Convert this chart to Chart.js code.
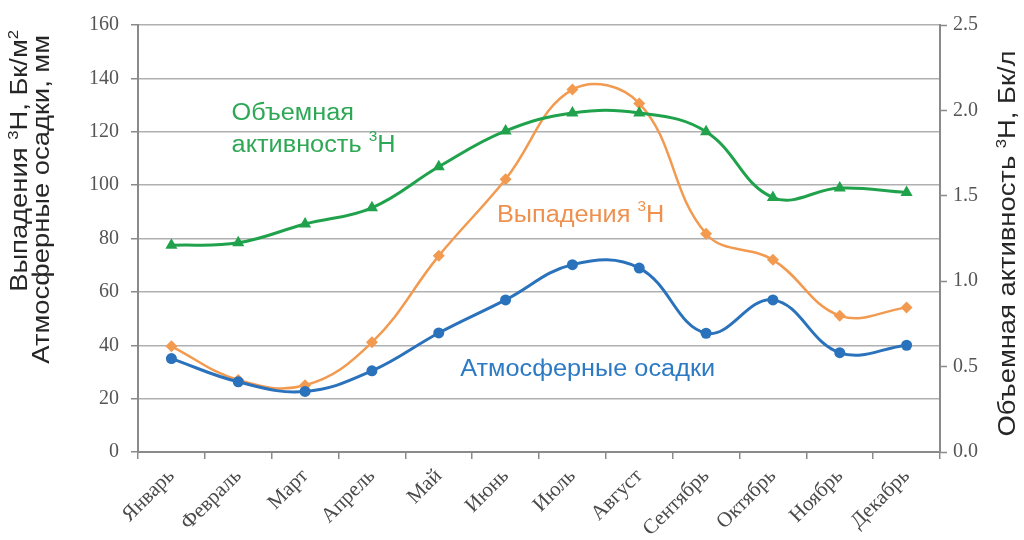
<!DOCTYPE html>
<html>
<head>
<meta charset="utf-8">
<script src="https://cdn.jsdelivr.net/npm/chart.js@4/dist/chart.umd.min.js"></script>
<style>
  html, body { margin: 0; padding: 0; background: #ffffff; }
  #wrap { width: 1024px; height: 540px; }
</style>
</head>
<body>
<div id="wrap"><canvas id="c" width="1024" height="540"></canvas></div>
<script>
// Месяцы
const months = ['Январь', 'Февраль', 'Март', 'Апрель', 'Май', 'Июнь',
                'Июль', 'Август', 'Сентябрь', 'Октябрь', 'Ноябрь', 'Декабрь'];

// Атмосферные осадки, мм (левая ось)
const precipitation = [35, 26.3, 22.7, 30.4, 44.6, 57, 70.2, 68.9, 44.5, 57, 37.2, 40];

// Выпадения 3H, Бк/м² (левая ось)
const tritiumFallout = [39.6, 27, 25, 41.1, 73.5, 102.2, 135.8, 130.6, 81.8, 72, 51.1, 54.1];

// Объемная активность 3H, Бк/л (правая ось)
const tritiumActivity = [1.21, 1.225, 1.335, 1.43, 1.67, 1.88, 1.985, 1.985, 1.875, 1.49, 1.545, 1.52];

// Шкалы
const leftTicks = [0, 20, 40, 60, 80, 100, 120, 140, 160];
const rightTicks = [0, 0.5, 1.0, 1.5, 2.0, 2.5];

const BLUE = '#2a72bb';
const ORANGE = '#f29a50';
const GREEN = '#20a24c';
const AXIS = '#8a8a8a';
const GRID = '#b0b0b0';
const TICK_TEXT = '#555555';
const SERIF = '"Liberation Serif", "Times New Roman", serif';
const SANS = '"Liberation Sans", Arial, sans-serif';

// Подписи серий прямо на поле графика (позиции в единицах осей)
const seriesLabels = [
  { parts: [['Объемная', false]], at: [0.9, 126.6], color: '#2fa856' },
  { parts: [['активность ', false], ['3', true], ['H', false]], at: [0.9, 114.8], color: '#2fa856' },
  { parts: [['Выпадения ', false], ['3', true], ['H', false]], at: [4.87, 88.6], color: '#ee914f' },
  { parts: [['Атмосферные осадки', false]], at: [4.32, 30.7], color: '#2d7ac4' }
];

// Текст с надстрочными индексами; stretch растягивает строку вдоль направления письма
function drawRich(ctx, parts, x, y, size, stretch) {
  ctx.save();
  ctx.translate(x, y);
  ctx.scale(stretch, 1);
  let cx = 0;
  for (const [text, sup] of parts) {
    if (sup) {
      ctx.font = Math.round(size * 0.62) + 'px ' + SANS;
      ctx.fillText(text, cx, -size * 0.38);
    } else {
      ctx.font = size + 'px ' + SANS;
      ctx.fillText(text, cx, 0);
    }
    cx += ctx.measureText(text).width;
  }
  ctx.restore();
}

function richWidth(ctx, parts, size, stretch) {
  let w = 0;
  ctx.save();
  for (const [text, sup] of parts) {
    ctx.font = (sup ? Math.round(size * 0.62) : size) + 'px ' + SANS;
    w += ctx.measureText(text).width;
  }
  ctx.restore();
  return w * stretch;
}

const labelPlugin = {
  id: 'seriesLabels',
  afterDatasetsDraw(chart) {
    const ctx = chart.ctx;
    const xs = chart.scales.x, ys = chart.scales.y;
    ctx.save();
    ctx.textBaseline = 'middle';
    ctx.textAlign = 'left';
    for (const l of seriesLabels) {
      ctx.fillStyle = l.color;
      drawRich(ctx, l.parts, xs.getPixelForValue(l.at[0]), ys.getPixelForValue(l.at[1]), 23, 1.1);
    }
    ctx.restore();
  }
};

// Подписи осей (повёрнутые)
const axisTitles = {
  id: 'axisTitles',
  afterDraw(chart) {
    const ctx = chart.ctx;
    const area = chart.chartArea;
    const size = 23;
    const stretch = 1.19;
    ctx.save();
    ctx.fillStyle = '#262626';
    ctx.textBaseline = 'alphabetic';
    ctx.textAlign = 'left';
    // левая ось: две строки, выровнены по верхнему краю
    const leftLines = [
      [['Выпадения ', false], ['3', true], ['H, Бк/м', false], ['2', true]],
      [['Атмосферные осадки, мм', false]]
    ];
    const baseX = [27, 49];
    const endY = [area.top + 5, area.top + 10];
    leftLines.forEach((parts, i) => {
      const w = richWidth(ctx, parts, size, stretch);
      ctx.save();
      ctx.translate(baseX[i], endY[i]);
      ctx.rotate(-Math.PI / 2);
      drawRich(ctx, parts, -w, 0, size, stretch);
      ctx.restore();
    });
    // правая ось: одна строка по центру
    const rParts = [['Объемная активность ', false], ['3', true], ['H, Бк/л', false]];
    const rw = richWidth(ctx, rParts, size, stretch);
    ctx.save();
    ctx.translate(1015, (area.top + area.bottom) / 2 + 5);
    ctx.rotate(-Math.PI / 2);
    drawRich(ctx, rParts, -rw / 2, 0, size, stretch);
    ctx.restore();
    ctx.restore();
  }
};

new Chart(document.getElementById('c'), {
  type: 'line',
  data: {
    labels: months,
    datasets: [
      {
        label: 'Атмосферные осадки',
        data: precipitation,
        yAxisID: 'y',
        borderColor: BLUE,
        backgroundColor: BLUE,
        borderWidth: 3,
        pointStyle: 'circle',
        pointRadius: 5.5,
        pointBorderWidth: 0,
        tension: 0.4,
        order: 1
      },
      {
        label: 'Объемная активность 3H',
        data: tritiumActivity,
        yAxisID: 'y1',
        borderColor: GREEN,
        backgroundColor: GREEN,
        borderWidth: 3,
        pointStyle: 'triangle',
        pointRadius: 7,
        pointBorderWidth: 0,
        tension: 0.4,
        order: 2
      },
      {
        label: 'Выпадения 3H',
        data: tritiumFallout,
        yAxisID: 'y',
        borderColor: ORANGE,
        backgroundColor: ORANGE,
        borderWidth: 2.5,
        pointStyle: 'rectRot',
        pointRadius: 6,
        pointBorderWidth: 0,
        tension: 0.4,
        order: 3
      }
    ]
  },
  options: {
    responsive: false,
    animation: false,
    layout: { padding: { top: 25, left: 0, right: 0, bottom: 0 } },
    plugins: {
      legend: { display: false },
      tooltip: { enabled: false }
    },
    scales: {
      x: {
        type: 'category',
        offset: true,
        grid: {
          offset: true,
          drawOnChartArea: false,
          drawTicks: true,
          tickLength: 7,
          color: AXIS,
          lineWidth: 1.5
        },
        border: { display: true, color: AXIS, width: 2 },
        ticks: {
          font: { family: SERIF, size: 21 },
          color: '#4a4a4a',
          maxRotation: 45,
          minRotation: 45,
          autoSkip: false,
          padding: 5
        },
        afterFit(scale) { scale.height = 88; }
      },
      y: {
        position: 'left',
        min: 0,
        max: 160,
        afterBuildTicks(scale) { scale.ticks = leftTicks.map(v => ({ value: v })); },
        ticks: {
          font: { family: SERIF, size: 20 },
          color: TICK_TEXT,
          padding: 12
        },
        grid: {
          color: GRID,
          lineWidth: 1.5,
          tickLength: 7,
          tickColor: AXIS,
          tickWidth: 1.5
        },
        border: { display: true, color: AXIS, width: 2 },
        afterFit(scale) { scale.width = 138; }
      },
      y1: {
        position: 'right',
        min: 0,
        max: 2.5,
        afterBuildTicks(scale) { scale.ticks = rightTicks.map(v => ({ value: v })); },
        ticks: {
          font: { family: SERIF, size: 20 },
          color: TICK_TEXT,
          padding: 6,
          callback: v => Number(v).toFixed(1)
        },
        grid: {
          drawOnChartArea: false,
          tickLength: 7,
          tickColor: AXIS,
          tickWidth: 1.5
        },
        border: { display: true, color: AXIS, width: 2 },
        afterFit(scale) { scale.width = 84; }
      }
    }
  },
  plugins: [labelPlugin, axisTitles]
});
</script>
</body>
</html>
